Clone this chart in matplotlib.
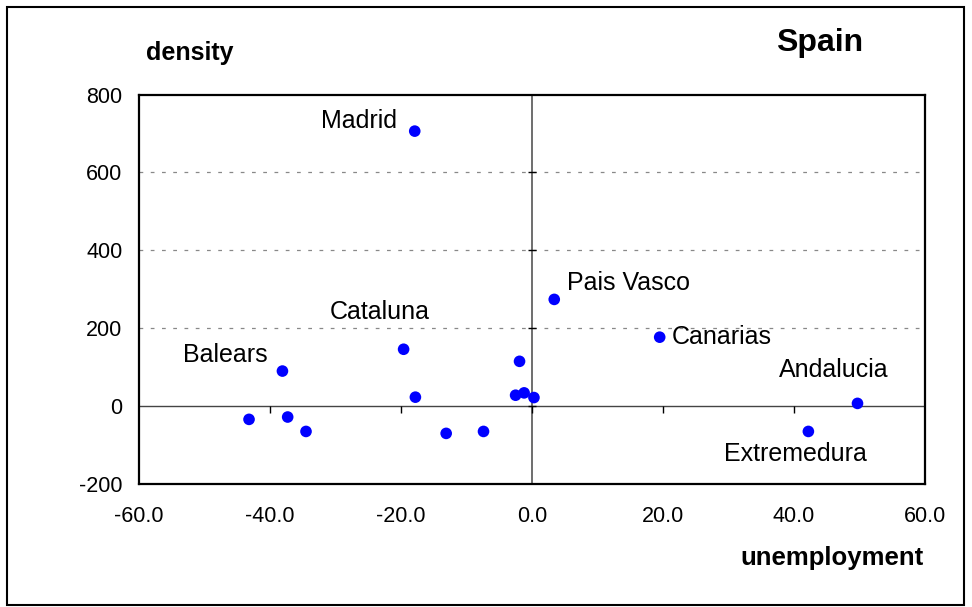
import matplotlib.pyplot as plt
from matplotlib.patches import Rectangle
import numpy as np

plt.rcParams['font.family'] = ['Liberation Sans', 'DejaVu Sans']

# unemployment (x) and density (y) for the Spanish regions
unemployment = [-17.9, 3.4, -19.6, -38.1, 19.5, 49.7, 42.2,
                -43.2, -37.3, -34.5, -17.8, -13.1, -7.4, -1.9, -2.5, -1.2, 0.3]
density = [706, 274, 146, 90, 177, 7, -65,
           -34, -28, -65, 23, -70, -65, 115, 28, 34, 22]
names = ['Madrid', 'Pais Vasco', 'Cataluna', 'Balears', 'Canarias',
         'Andalucia', 'Extremedura']
# label offsets in points and alignment
label_pos = {
    'Madrid': (-13, 7, 'right'),
    'Pais Vasco': (9, 12, 'left'),
    'Cataluna': (-17, 27, 'center'),
    'Balears': (-11, 11.5, 'right'),
    'Canarias': (9, 0, 'left'),
    'Andalucia': (-17, 24, 'center'),
    'Extremedura': (-9, -16, 'center'),
}

xticks = [-60, -40, -20, 0, 20, 40, 60]
yticks = [-200, 0, 200, 400, 600, 800]

fig = plt.figure(figsize=(9.72, 6.07), dpi=100)
fig.patches.append(Rectangle((7 / 972, 2 / 607), 957 / 972, 598 / 607,
                             transform=fig.transFigure, fill=False,
                             edgecolor='black', linewidth=1.5))
ax = fig.add_axes([0.143, 0.2026, 0.8086, 0.6417])

ax.set_xlim(-60, 60)
ax.set_ylim(-200, 800)
ax.set_xticks(xticks)
ax.set_yticks(yticks)
ax.set_xticklabels(['%.1f' % v for v in xticks])
ax.set_yticklabels([str(v) for v in yticks])
ax.tick_params(length=0, labelsize=15.5)
ax.tick_params(axis='x', pad=16)
ax.tick_params(axis='y', pad=12)
for s in ax.spines.values():
    s.set_linewidth(1.6)

for v in [200, 400, 600]:
    ax.axhline(v, color='#888888', linewidth=0.9, dashes=(3, 6), zorder=1)
ax.axhline(0, color='#444444', linewidth=1.0, zorder=2)
ax.axvline(0, color='#555555', linewidth=1.2, zorder=2)

# tick marks on the zero axes
ax.plot([-40, -20, 0, 20, 40], [0] * 5, linestyle='none', marker=3,
        markersize=5, color='black', markeredgewidth=1, zorder=2)
ax.plot([0] * 4, [200, 400, 600, 0], linestyle='none', marker='_',
        markersize=6, color='black', markeredgewidth=1, zorder=2)

ax.scatter(unemployment, density, s=70, color='#0000ff', zorder=3,
           edgecolors='none')

for i, name in enumerate(names):
    dx, dy, ha = label_pos[name]
    ax.annotate(name, (unemployment[i], density[i]), xytext=(dx, dy),
                textcoords='offset points', ha=ha, va='center', fontsize=18)

fig.text(190 / 972, 1 - 53 / 607, 'density', fontsize=18, fontweight='bold',
         ha='center', va='center')
fig.text(820 / 972, 1 - 43 / 607, 'Spain', fontsize=23, fontweight='bold',
         ha='center', va='center')
fig.text(832 / 972, 1 - 558 / 607, 'unemployment', fontsize=18.5,
         fontweight='bold', ha='center', va='center')

fig.savefig('out.png', dpi=100)
